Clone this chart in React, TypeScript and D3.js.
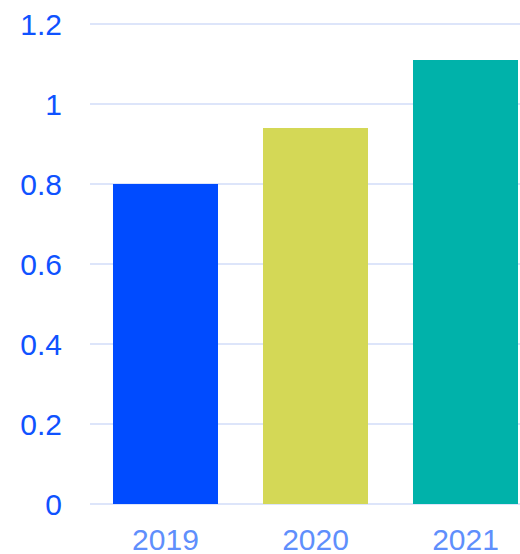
import * as React from 'react';
import * as d3 from 'd3';

const years = ['2019', '2020', '2021'];
const values = [0.8, 0.94, 1.11];
const barColors = ['#004bff', '#d4d856', '#00b2aa'];
const yTicks = [0, 0.2, 0.4, 0.6, 0.8, 1, 1.2];

export default function App() {
  const width = 520;
  const height = 554;
  const x = d3
    .scaleBand<string>()
    .domain(years)
    .range([90, 541])
    .paddingInner(0.3)
    .paddingOuter(0.1533);
  const y = d3.scaleLinear().domain([0, 1.2]).range([504, 24]);

  return (
    <svg
      width={width}
      height={height}
      style={{position: 'absolute', left: 0, top: 0, display: 'block'}}
      fontFamily="'Liberation Sans', Arial, sans-serif"
    >
      {yTicks.map(t => (
        <g key={t}>
          <line x1={90} x2={width} y1={y(t)} y2={y(t)} stroke='#dde5fa' strokeWidth={2} />
          <text
            x={62}
            y={y(t)}
            dy='0.36em'
            textAnchor='end'
            fontSize={30}
            fill='#0f52ff'
          >
            {d3.format('~g')(t)}
          </text>
        </g>
      ))}
      {years.map((yr, i) => (
        <rect
          key={yr}
          x={x(yr)}
          y={y(values[i])}
          width={x.bandwidth()}
          height={y(0) - y(values[i])}
          fill={barColors[i]}
        />
      ))}
      {years.map(yr => (
        <text
          key={yr}
          x={(x(yr) as number) + x.bandwidth() / 2}
          y={550}
          textAnchor='middle'
          fontSize={30}
          fill='#5f8ffc'
        >
          {yr}
        </text>
      ))}
    </svg>
  );
}
